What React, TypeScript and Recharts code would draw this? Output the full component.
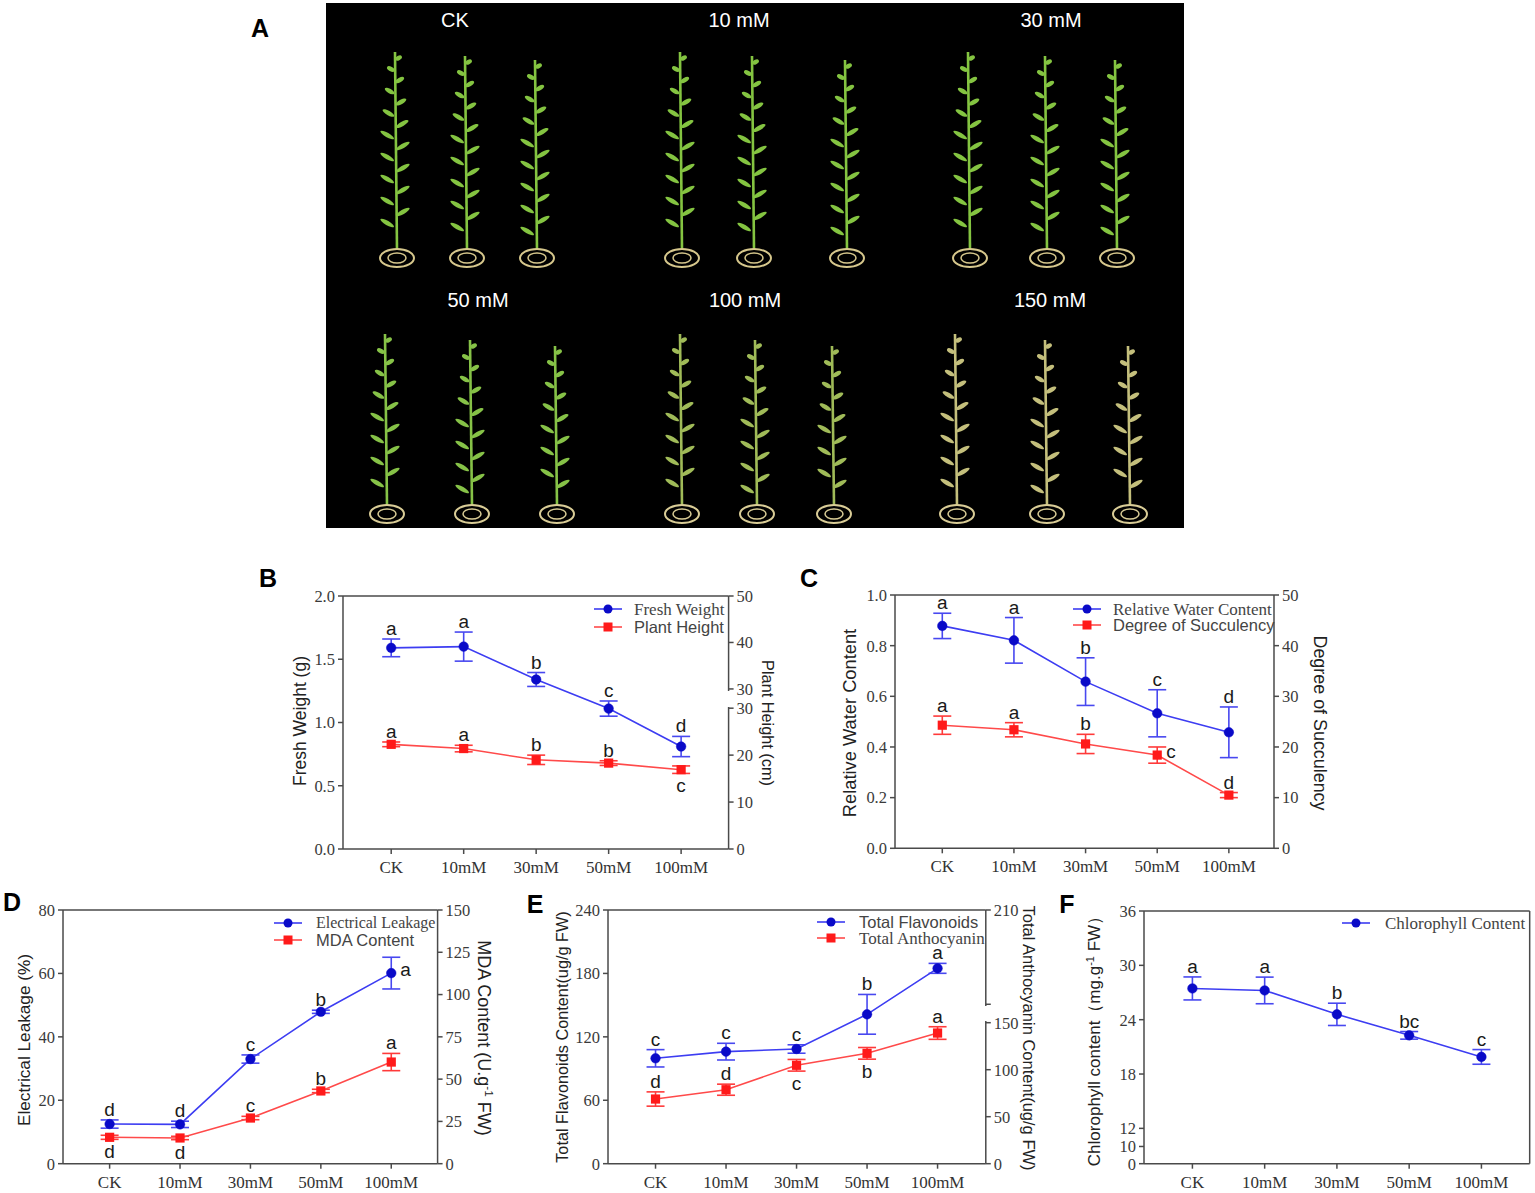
import React from "react";
import { LineChart, Line, XAxis, YAxis, ErrorBar, LabelList, ReferenceLine } from "recharts";

// treatments on the x axis
const cats = ["CK", "10mM", "30mM", "50mM", "100mM"];

// B
const freshWeight = [1.59, 1.6, 1.34, 1.11, 0.81];
const freshWeightErr = [0.07, 0.115, 0.055, 0.06, 0.08];
const freshWeightLetters = ["a", "a", "b", "c", "d"];
const plantHeight = [22.3, 21.4, 19.0, 18.3, 16.9];
const plantHeightErr = [0.5, 0.7, 1.0, 0.5, 0.8];
const plantHeightLetters = ["a", "a", "b", "b", "c"];

// C
const waterContent = [0.878, 0.821, 0.658, 0.533, 0.458];
const waterContentErr = [0.05, 0.09, 0.094, 0.093, 0.1];
const waterContentLetters = ["a", "a", "b", "c", "d"];
const succulency = [24.3, 23.4, 20.6, 18.4, 10.5];
const succulencyErr = [1.8, 1.4, 1.9, 1.6, 0.5];
const succulencyLetters = ["a", "a", "b", "c", "d"];

// D
const leakage = [12.5, 12.4, 33.0, 47.9, 60.1];
const leakageErr = [1.3, 1.0, 1.3, 0.5, 5.0];
const leakageLetters = ["d", "d", "c", "b", "a"];
const mda = [15.6, 15.2, 27.0, 43.0, 60.1];
const mdaErr = [1.2, 1.0, 1.0, 1.0, 5.1];
const mdaLetters = ["d", "d", "c", "b", "a"];

// E
const flavonoids = [99.7, 106, 108.5, 141.3, 184.8];
const flavonoidsErr = [8.2, 7.9, 4, 18.8, 4.7];
const flavonoidsLetters = ["c", "c", "c", "b", "a"];
const anthocyanin = [68.8, 78.7, 104.7, 117.4, 139];
const anthocyaninErr = [7.6, 5.9, 6.2, 6.2, 6.7];
const anthocyaninLetters = ["d", "d", "c", "b", "a"];

// F
const chlorophyll = [27.45, 27.23, 24.59, 22.27, 19.89];
const chlorophyllErr = [1.27, 1.47, 1.23, 0.42, 0.81];
const chlorophyllLetters = ["a", "a", "b", "bc", "c"];

const bLeftTicks = [0, 0.5, 1, 1.5, 2];
const bRightTicks = [0, 10, 20, 30, 34.1, 44.0, 53.9];
const bRightLabels = ["0", "10", "20", "30", "30", "40", "50"];
const cLeftTicks = [0, 0.2, 0.4, 0.6, 0.8, 1.0];
const cRightTicks = [0, 10, 20, 30, 40, 50];
const dLeftTicks = [0, 20, 40, 60, 80];
const dRightTicks = [0, 25, 50, 75, 100, 125, 150];
const eLeftTicks = [0, 60, 120, 180, 240];
const eRightTicks = [0, 50, 100, 150, 169.6, 269.9];
const eRightLabels = ["0", "50", "100", "150", "", "210"];
const fLeftTicks = [8.1, 10, 12, 18, 24, 30, 36];
const fLeftLabels = ["0", "10", "12", "18", "24", "30", "36"];

const SERIF = "'Liberation Serif', 'Times New Roman', serif";
const SANS = "'Liberation Sans', Arial, sans-serif";
const AXIS = "#4a4a4a";
const BLUE = { line: "#3d3df2", dot: "#0a0ac8", bar: "#4848f0" };
const RED = { line: "#ff4a4a", dot: "#ff1a1a", bar: "#ff3a3a" };

type Series = {
  name: string;
  nameFont: string;
  nameSize: number;
  values: number[];
  errs: number[];
  letters: string[];
  place: string[]; // top | bottom | side per point
  axis: "left" | "right";
  kind: "blue" | "red";
};

type Axis = { domain: [number, number]; ticks: number[]; labels?: string[]; fmt?: (v: number) => string };

type Panel = {
  tag: string;
  tagAt: [number, number];
  box: { l: number; r: number; t: number; b: number };
  xDomain: [number, number];
  left: Axis;
  right?: Axis;
  series: Series[];
  legend: { mx: number; tx: number; rows: number[] };
  leftTitle: { at: [number, number]; size: number; node: React.ReactNode };
  rightTitle?: { at: [number, number]; size: number; node: React.ReactNode };
  gap?: [number, number];
};

const fmtAxis = (a: Axis) => (v: number) => {
  if (a.labels) return a.labels[a.ticks.indexOf(v)] ?? "";
  return a.fmt ? a.fmt(v) : String(v);
};

const letterStyle = { fontFamily: SANS, fontSize: 19, fill: "#1a1a1a" };

const topLetter = (p: any) =>
  p.value ? (
    <text x={p.x} y={p.y - 4} textAnchor="middle" {...letterStyle}>
      {p.value}
    </text>
  ) : null;
const bottomLetter = (p: any) =>
  p.value ? (
    <text x={p.x} y={p.y + 19} textAnchor="middle" {...letterStyle}>
      {p.value}
    </text>
  ) : null;
const sideLetter = (p: any) =>
  p.value ? (
    <text x={p.x + 9} y={p.y + 3} textAnchor="start" {...letterStyle}>
      {p.value}
    </text>
  ) : null;

function VTitle({ at, size, angle, children }: { at: [number, number]; size: number; angle: number; children: React.ReactNode }) {
  return (
    <div
      style={{
        position: "absolute",
        left: at[0],
        top: at[1],
        transform: `translate(-50%, -50%) rotate(${angle}deg)`,
        whiteSpace: "nowrap",
        fontFamily: SANS,
        fontSize: size,
        color: "#222",
        lineHeight: 1,
      }}
    >
      {children}
    </div>
  );
}

function LegendIcon({ kind }: { kind: "blue" | "red" }) {
  const c = kind === "blue" ? BLUE : RED;
  return (
    <svg width={28} height={12} style={{ display: "block" }}>
      <line x1={0} y1={6} x2={28} y2={6} stroke={c.line} strokeWidth={1.6} />
      {kind === "blue" ? <circle cx={14} cy={6} r={4.5} fill={c.dot} /> : <rect x={9.5} y={1.5} width={9} height={9} fill={c.dot} />}
    </svg>
  );
}

function ChartPanel({ p }: { p: Panel }) {
  const yw = 60;
  const rightW = p.right ? 60 : 0;
  const padR = p.right ? 0 : 5;
  const width = p.box.r - p.box.l + yw + rightW + padR;
  const height = p.box.b - p.box.t + 10 + 30;

  const rows = cats.map((c, i) => {
    const row: any = { i, c };
    p.series.forEach((s, k) => {
      row[`v${k}`] = s.values[i];
      row[`e${k}`] = s.errs[i];
      row[`hi${k}`] = s.values[i] + s.errs[i];
      row[`lo${k}`] = s.values[i] - s.errs[i];
      row[`top${k}`] = s.place[i] === "top" ? s.letters[i] : "";
      row[`bot${k}`] = s.place[i] === "bottom" ? s.letters[i] : "";
      row[`side${k}`] = s.place[i] === "side" ? s.letters[i] : "";
    });
    return row;
  });

  const tickStyle = { fontFamily: SERIF, fontSize: 16.5, fill: "#3a3a3a" };

  return (
    <>
      <div style={{ position: "absolute", left: p.tagAt[0], top: p.tagAt[1], transform: "translate(-50%, -50%)", fontFamily: SANS, fontWeight: 700, fontSize: 25, lineHeight: 1 }}>
        {p.tag}
      </div>
      <div style={{ position: "absolute", left: p.box.l - yw, top: p.box.t - 10 }}>
        <LineChart width={width} height={height} data={rows} margin={{ top: 10, right: padR, left: 0, bottom: 0 }}>
          <XAxis
            dataKey="i"
            type="number"
            domain={p.xDomain}
            ticks={[0, 1, 2, 3, 4]}
            interval={0}
            allowDataOverflow
            height={30}
            tickFormatter={(v: number) => cats[v]}
            tick={{ ...tickStyle, fontSize: 17, fill: "#333" }}
            tickSize={5}
            tickMargin={7}
            axisLine={{ stroke: AXIS, strokeWidth: 1.5 }}
            tickLine={{ stroke: AXIS, strokeWidth: 1.5 }}
          />
          <YAxis
            yAxisId="left"
            width={yw}
            domain={p.left.domain}
            ticks={p.left.ticks}
            interval={0}
            allowDataOverflow
            tickFormatter={fmtAxis(p.left)}
            tick={tickStyle}
            tickSize={5}
            tickMargin={3}
            axisLine={{ stroke: AXIS, strokeWidth: 1.5 }}
            tickLine={{ stroke: AXIS, strokeWidth: 1.5 }}
          />
          {p.right && (
            <YAxis
              yAxisId="right"
              orientation="right"
              width={rightW}
              domain={p.right.domain}
              ticks={p.right.ticks}
              interval={0}
              allowDataOverflow
              tickFormatter={fmtAxis(p.right)}
              tick={tickStyle}
              tickSize={5}
              tickMargin={3}
              axisLine={{ stroke: AXIS, strokeWidth: 1.5 }}
              tickLine={{ stroke: AXIS, strokeWidth: 1.5 }}
            />
          )}
          <ReferenceLine yAxisId="left" y={p.left.domain[1]} stroke={AXIS} strokeWidth={1.5} ifOverflow="visible" />
          {!p.right && <ReferenceLine yAxisId="left" x={p.xDomain[1]} stroke={AXIS} strokeWidth={1.5} ifOverflow="visible" />}
          {p.series.map((s, k) => {
            const c = s.kind === "blue" ? BLUE : RED;
            return (
              <Line
                key={`s${k}`}
                yAxisId={s.axis}
                dataKey={`v${k}`}
                stroke={c.line}
                strokeWidth={1.6}
                isAnimationActive={false}
                activeDot={false}
                dot={
                  s.kind === "blue"
                    ? { r: 4.8, fill: c.dot, stroke: c.dot, strokeWidth: 0.5 }
                    : (d: any) => <rect key={`sq${k}-${d.index}`} x={d.cx - 4.6} y={d.cy - 4.6} width={9.2} height={9.2} fill={c.dot} />
                }
              >
                <ErrorBar dataKey={`e${k}`} width={9} stroke={c.bar} strokeWidth={1.6} direction="y" isAnimationActive={false} />
                <LabelList dataKey={`side${k}`} content={sideLetter} />
              </Line>
            );
          })}
          {p.series.map((s, k) => (
            <Line key={`h${k}`} yAxisId={s.axis} dataKey={`hi${k}`} stroke="none" dot={false} activeDot={false} legendType="none" isAnimationActive={false}>
              <LabelList dataKey={`top${k}`} content={topLetter} />
            </Line>
          ))}
          {p.series.map((s, k) => (
            <Line key={`l${k}`} yAxisId={s.axis} dataKey={`lo${k}`} stroke="none" dot={false} activeDot={false} legendType="none" isAnimationActive={false}>
              <LabelList dataKey={`bot${k}`} content={bottomLetter} />
            </Line>
          ))}
        </LineChart>
      </div>
      {p.gap && <div style={{ position: "absolute", left: p.box.r - 2.5, top: p.gap[0], width: 5, height: p.gap[1] - p.gap[0], background: "#fff" }} />}
      {p.series.map((s, k) => (
        <div key={`lg${k}`} style={{ position: "absolute", left: p.legend.mx - 14, top: p.legend.rows[k] - 6 }}>
          <LegendIcon kind={s.kind} />
        </div>
      ))}
      {p.series.map((s, k) => (
        <div
          key={`lt${k}`}
          style={{
            position: "absolute",
            left: p.legend.tx,
            top: p.legend.rows[k],
            transform: "translateY(-50%)",
            fontFamily: s.nameFont,
            fontSize: s.nameSize,
            color: "#444",
            whiteSpace: "nowrap",
            lineHeight: 1,
          }}
        >
          {s.name}
        </div>
      ))}
      <VTitle at={p.leftTitle.at} size={p.leftTitle.size} angle={-90}>
        {p.leftTitle.node}
      </VTitle>
      {p.rightTitle && (
        <VTitle at={p.rightTitle.at} size={p.rightTitle.size} angle={90}>
          {p.rightTitle.node}
        </VTitle>
      )}
    </>
  );
}

const fixed1 = (v: number) => v.toFixed(1);

const panels: Panel[] = [
  {
    tag: "B",
    tagAt: [268, 578],
    box: { l: 342.7, r: 728.3, t: 595.5, b: 848.5 },
    xDomain: [-0.665, 4.655],
    left: { domain: [0, 2], ticks: bLeftTicks, fmt: fixed1 },
    right: { domain: [0, 53.9], ticks: bRightTicks, labels: bRightLabels },
    series: [
      { name: "Fresh Weight", nameFont: SERIF, nameSize: 17, values: freshWeight, errs: freshWeightErr, letters: freshWeightLetters, place: ["top", "top", "top", "top", "top"], axis: "left", kind: "blue" },
      { name: "Plant Height", nameFont: SANS, nameSize: 16.5, values: plantHeight, errs: plantHeightErr, letters: plantHeightLetters, place: ["top", "top", "top", "top", "bottom"], axis: "right", kind: "red" },
    ],
    legend: { mx: 608, tx: 634, rows: [609, 627] },
    leftTitle: { at: [301, 721], size: 17.5, node: "Fresh Weight (g)" },
    rightTitle: { at: [768, 723], size: 16.3, node: "Plant Height (cm)" },
    gap: [691, 707],
  },
  {
    tag: "C",
    tagAt: [809, 578],
    box: { l: 895, r: 1274, t: 595, b: 848.3 },
    xDomain: [-0.66, 4.63],
    left: { domain: [0, 1], ticks: cLeftTicks, fmt: fixed1 },
    right: { domain: [0, 50], ticks: cRightTicks },
    series: [
      { name: "Relative Water Content", nameFont: SERIF, nameSize: 17, values: waterContent, errs: waterContentErr, letters: waterContentLetters, place: ["top", "top", "top", "top", "top"], axis: "left", kind: "blue" },
      { name: "Degree of Succulency", nameFont: SANS, nameSize: 16.5, values: succulency, errs: succulencyErr, letters: succulencyLetters, place: ["top", "top", "top", "side", "top"], axis: "right", kind: "red" },
    ],
    legend: { mx: 1087, tx: 1113, rows: [609, 625] },
    leftTitle: { at: [850, 723], size: 18.3, node: "Relative Water Content" },
    rightTitle: { at: [1319, 723], size: 17.9, node: "Degree of Succulency" },
  },
  {
    tag: "D",
    tagAt: [12, 902],
    box: { l: 62.7, r: 437.3, t: 910, b: 1163.7 },
    xDomain: [-0.662, 4.658],
    left: { domain: [0, 80], ticks: dLeftTicks },
    right: { domain: [0, 150], ticks: dRightTicks },
    series: [
      { name: "Electrical Leakage", nameFont: SERIF, nameSize: 16, values: leakage, errs: leakageErr, letters: leakageLetters, place: ["top", "top", "top", "top", "side"], axis: "left", kind: "blue" },
      { name: "MDA Content", nameFont: SANS, nameSize: 16.5, values: mda, errs: mdaErr, letters: mdaLetters, place: ["bottom", "bottom", "top", "top", "top"], axis: "right", kind: "red" },
    ],
    legend: { mx: 288, tx: 316, rows: [923, 940] },
    leftTitle: { at: [25, 1040], size: 17.2, node: "Electrical Leakage (%)" },
    rightTitle: {
      at: [485, 1038],
      size: 18,
      node: (
        <>
          MDA Content (U.g<sup style={{ fontSize: "0.65em" }}>-1</sup> FW)
        </>
      ),
    },
  },
  {
    tag: "E",
    tagAt: [535, 904],
    box: { l: 607.7, r: 985.5, t: 910, b: 1163.7 },
    xDomain: [-0.674, 4.684],
    left: { domain: [0, 240], ticks: eLeftTicks },
    right: { domain: [0, 269.9], ticks: eRightTicks, labels: eRightLabels },
    series: [
      { name: "Total Flavonoids", nameFont: SANS, nameSize: 16.5, values: flavonoids, errs: flavonoidsErr, letters: flavonoidsLetters, place: ["top", "top", "top", "top", "top"], axis: "left", kind: "blue" },
      { name: "Total Anthocyanin", nameFont: SERIF, nameSize: 17, values: anthocyanin, errs: anthocyaninErr, letters: anthocyaninLetters, place: ["top", "top", "bottom", "bottom", "top"], axis: "right", kind: "red" },
    ],
    legend: { mx: 831, tx: 859, rows: [922, 938] },
    leftTitle: { at: [562, 1037], size: 16.3, node: "Total Flavonoids Content(ug/g FW)" },
    rightTitle: { at: [1029, 1038], size: 16.5, node: "Total Anthocyanin Content(ug/g FW)" },
    gap: [1006, 1021],
  },
  {
    tag: "F",
    tagAt: [1067, 904],
    box: { l: 1144.3, r: 1530, t: 911, b: 1163.7 },
    xDomain: [-0.67, 4.668],
    left: { domain: [8.1, 36], ticks: fLeftTicks, labels: fLeftLabels },
    series: [
      { name: "Chlorophyll Content", nameFont: SERIF, nameSize: 17, values: chlorophyll, errs: chlorophyllErr, letters: chlorophyllLetters, place: ["top", "top", "top", "top", "top"], axis: "left", kind: "blue" },
    ],
    legend: { mx: 1356, tx: 1385, rows: [923] },
    leftTitle: {
      at: [1094, 1037],
      size: 17,
      node: (
        <>
          Chlorophyll content（mg.g<sup style={{ fontSize: "0.65em" }}>-1</sup> FW）
        </>
      ),
    },
  },
];

// panel A: photo stand-in, stylised seedlings on black
const photoLabels = [
  { text: "CK", x: 455, y: 22 },
  { text: "10 mM", x: 739, y: 22 },
  { text: "30 mM", x: 1051, y: 22 },
  { text: "50 mM", x: 478, y: 302 },
  { text: "100 mM", x: 745, y: 302 },
  { text: "150 mM", x: 1050, y: 302 },
];
const topRowPlants = [395, 465, 535, 680, 752, 845, 968, 1045, 1115];
const bottomRowPlants = [385, 470, 555, 680, 755, 832, 955, 1045, 1128];

function Seedling({ x, top, bottom, leaf, root }: { x: number; top: number; bottom: number; leaf: string; root: string }) {
  const n = Math.floor((bottom - top - 28) / 11);
  const leaves = [];
  for (let k = 0; k < n; k++) {
    const y = top + 6 + k * 11;
    const side = k % 2 === 0 ? 1 : -1;
    const len = 6 + Math.min(k, 7);
    const cx = x + side * len * 0.6;
    leaves.push(<ellipse key={k} cx={cx} cy={y} rx={len * 0.6} ry={2.2} fill={leaf} transform={`rotate(${side * -30} ${cx} ${y})`} />);
  }
  return (
    <g>
      <path d={`M${x} ${top} L${x + 2} ${bottom - 16}`} stroke={leaf} strokeWidth={2.6} />
      {leaves}
      <ellipse cx={x + 2} cy={bottom - 8} rx={17} ry={9} fill="none" stroke={root} strokeWidth={2} />
      <ellipse cx={x + 2} cy={bottom - 8} rx={9} ry={5} fill="none" stroke={root} strokeWidth={1.5} />
    </g>
  );
}

function PhotoPanel() {
  const bottomLeaf = (x: number) => (x < 620 ? "#86c247" : x < 900 ? "#a0bb58" : "#c4bf7c");
  return (
    <>
      <div style={{ position: "absolute", left: 260, top: 28, transform: "translate(-50%, -50%)", fontFamily: SANS, fontWeight: 700, fontSize: 25, lineHeight: 1 }}>A</div>
      <svg width={858} height={525} style={{ position: "absolute", left: 326, top: 3 }} viewBox="326 3 858 525">
        <rect x={326} y={3} width={858} height={525} fill="#000" />
        {topRowPlants.map((x, i) => (
          <Seedling key={`t${i}`} x={x} top={52 + (i % 3) * 4} bottom={266} leaf="#84c441" root="#d6c78c" />
        ))}
        {bottomRowPlants.map((x, i) => (
          <Seedling key={`b${i}`} x={x} top={334 + (i % 3) * 6} bottom={522} leaf={bottomLeaf(x)} root="#d9cc96" />
        ))}
        {photoLabels.map((l) => (
          <text key={l.text} x={l.x} y={l.y} textAnchor="middle" dominantBaseline="middle" fill="#fff" fontFamily={SANS} fontSize={20}>
            {l.text}
          </text>
        ))}
      </svg>
    </>
  );
}

export default function App() {
  return (
    <div style={{ position: "absolute", left: 0, top: 0, width: 1535, height: 1193, background: "#fff", overflow: "hidden" }}>
      <PhotoPanel />
      {panels.map((p) => (
        <ChartPanel key={p.tag} p={p} />
      ))}
    </div>
  );
}
